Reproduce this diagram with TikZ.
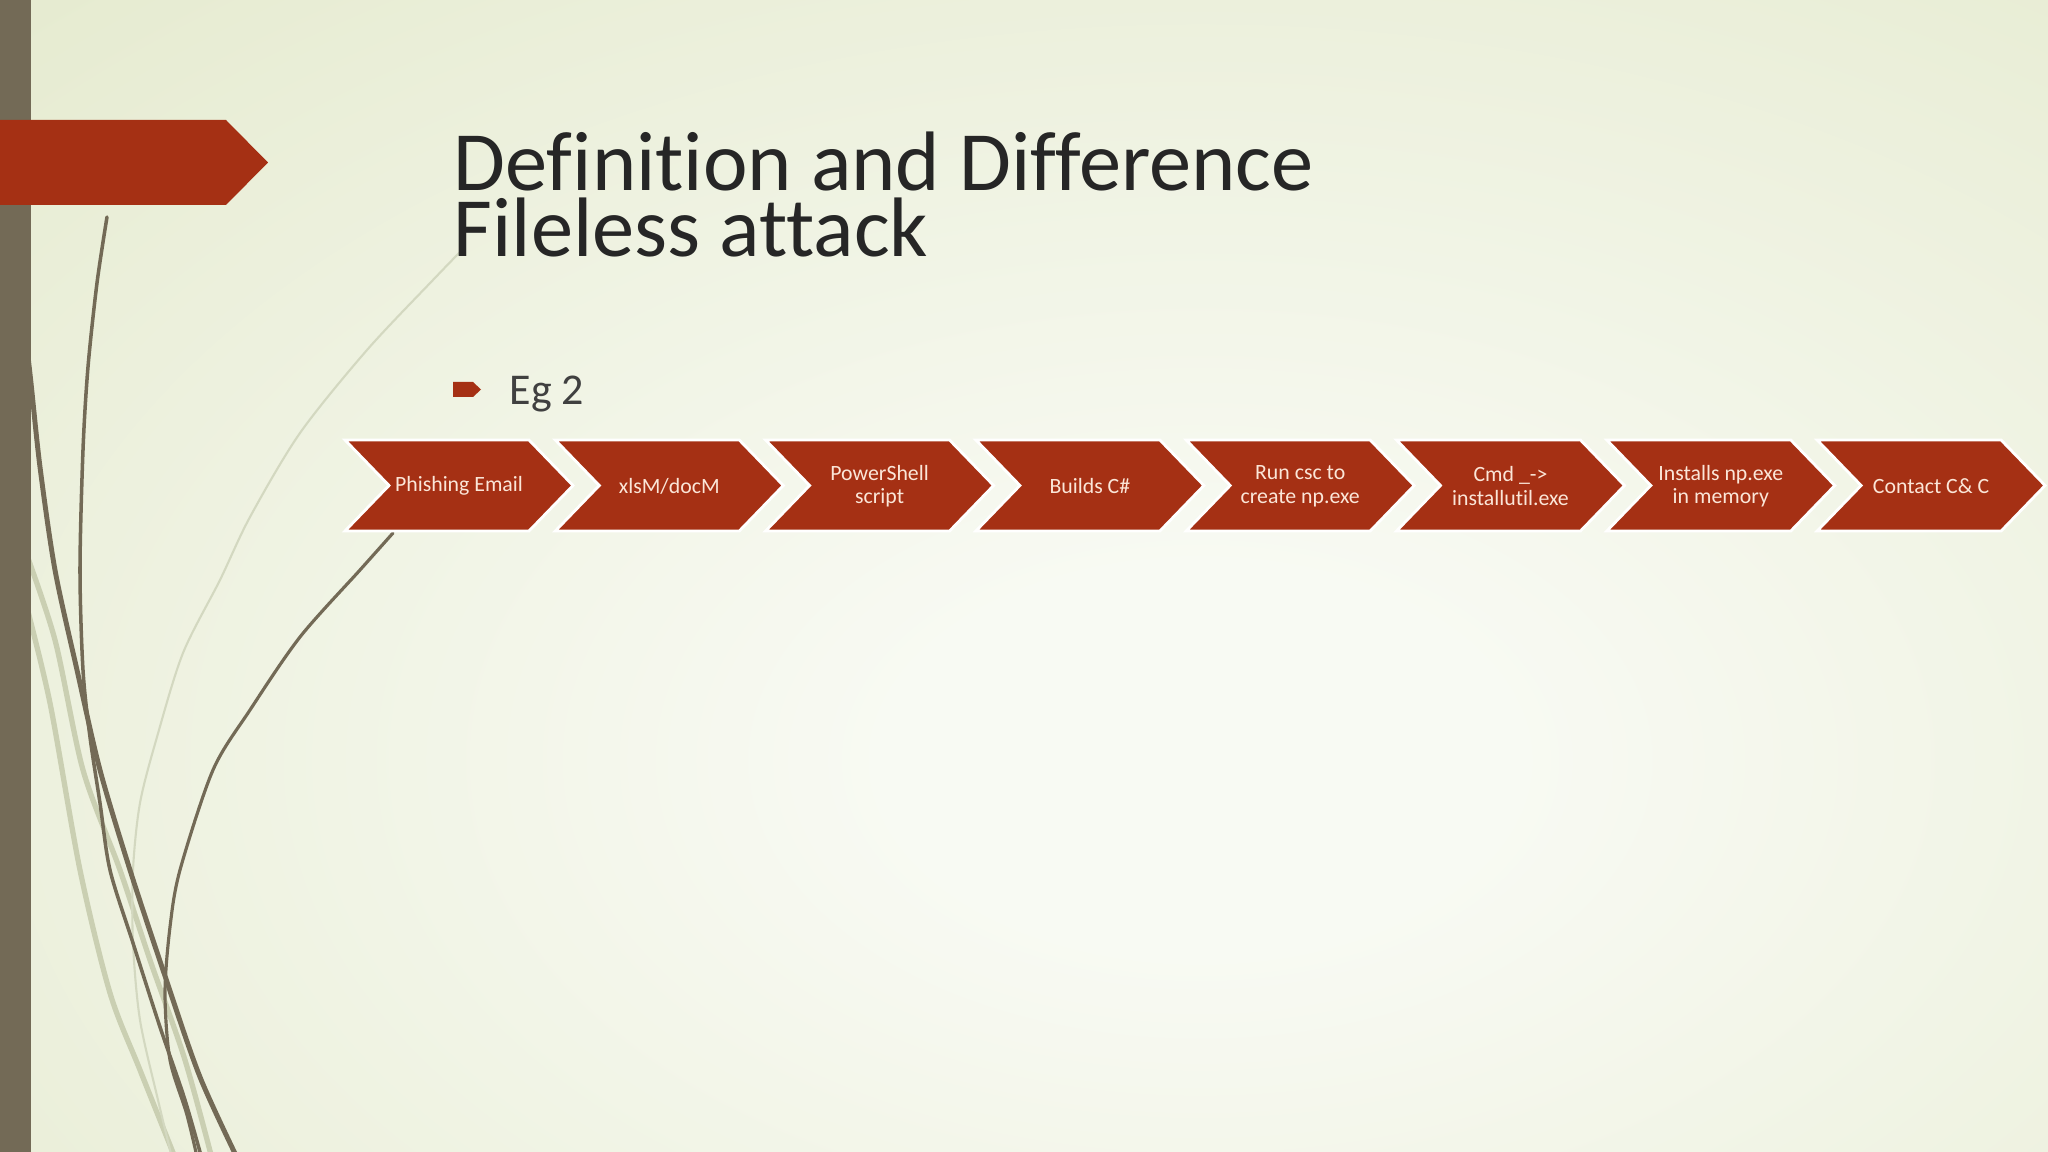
\documentclass[tikz,border=0pt]{standalone}
\usepackage{fontspec}
\setmainfont[Ligatures={NoCommon}]{Carlito}
\definecolor{wisprust}{HTML}{A53014}
\definecolor{wispbark}{HTML}{736A56}
\definecolor{wispsage}{HTML}{CACFB2}
\definecolor{wispmist}{HTML}{D3D8C0}
\definecolor{wisppeach}{HTML}{FBE6D8}
\definecolor{titleink}{HTML}{262626}
\definecolor{bodyink}{HTML}{404040}
\definecolor{bgin}{HTML}{F8FAF3}
\definecolor{bgout}{HTML}{E1E7C7}
\pgfdeclareradialshading{slidebg}{\pgfpoint{0bp}{0bp}}{color(0bp)=(bgin); color(6bp)=(bgin); color(40bp)=(bgout); color(90bp)=(bgout)}

\begin{document}
\begin{tikzpicture}[x=0.01cm, y=-0.01cm,
    chev/.style={fill=wisprust, draw=white, line width=0.8pt, line join=miter},
    chevtext/.style={text=wisppeach, align=center, inner sep=0pt, font=\fontsize{6.2}{6.7}\selectfont},
    darkstem/.style={draw=wispbark, line cap=round},
    lightstem/.style={draw=wispsage, line cap=round}]
  \useasboundingbox (0,0) rectangle (2048,1152);
  \begin{scope}
    \clip (0,0) rectangle (2048,1152);
    \shade[shading=slidebg] (-100,-40) rectangle (2500,1560);
    \draw[lightstem, line width=1.5pt] plot[smooth] coordinates {(25,550) (55,640) (83,770) (120,870) (150,960) (185,1060) (215,1170)};
    \draw[lightstem, line width=1.5pt] plot[smooth] coordinates {(25,600) (50,703) (80,870) (110,993) (140,1070) (180,1170)};
    \draw[lightstem, draw=wispmist, line width=0.6pt] plot[smooth] coordinates {(462,250) (433,280) (367,350) (300,433) (250,517) (220,580) (183,653) (157,737) (140,803) (133,870) (133,943) (140,1020) (158,1100) (175,1170)};
    \draw[darkstem, line width=1.4pt] plot[smooth] coordinates {(25,330) (31,383) (40,467) (55,570) (77,670) (100,770) (130,870) (163,970) (200,1077) (243,1170)};
    \draw[darkstem, line width=1.0pt] plot[smooth] coordinates {(107,217) (97,283) (88,367) (83,450) (80,570) (83,670) (90,737) (100,803) (110,870) (133,943) (160,1027) (185,1100) (205,1170)};
    \draw[darkstem, line width=0.9pt] plot[smooth] coordinates {(393,533) (360,570) (300,637) (250,710) (213,770) (180,870) (170,927) (165,993) (170,1060) (187,1115) (200,1170)};
    \fill[wispbark] (0,0) rectangle (31,1152);
  \end{scope}
  \fill[wisprust] (0,120) -- (226,120) -- (268,162.5) -- (226,205) -- (0,205) -- cycle;

  \node[anchor=south west, inner sep=0pt, align=left, text=titleink, font=\fontsize{24}{18.9}\selectfont] (title) at (453,258) {Definition and Difference\\Fileless attack};

  \fill[wisprust] (453,382) -- (473,382) -- (481,389.5) -- (473,397) -- (453,397) -- cycle;
  \node[anchor=base west, inner sep=0pt, text=bodyink, font=\fontsize{12.5}{15}\selectfont] (eg) at (509,405) {Eg 2};

  \foreach \lbl [count=\i] in {Phishing Email, xlsM/docM, {PowerShell\\script}, Builds C\#, {Run csc to\\create np.exe}, {Cmd \_->\\installutil.exe}, {Installs np.exe\\in memory}, Contact C\& C}{
    \pgfmathsetmacro\xl{345+210.3*(\i-1)}
    \draw[chev] (\xl,440) -- ++(184,0) -- ++(44,45.5) -- ++(-44,45.5) -- ++(-184,0) -- ++(44,-45.5) -- cycle;
    \node[chevtext] (step\i) at (\xl+114,486) {\lbl};
  }
\end{tikzpicture}
\end{document}
